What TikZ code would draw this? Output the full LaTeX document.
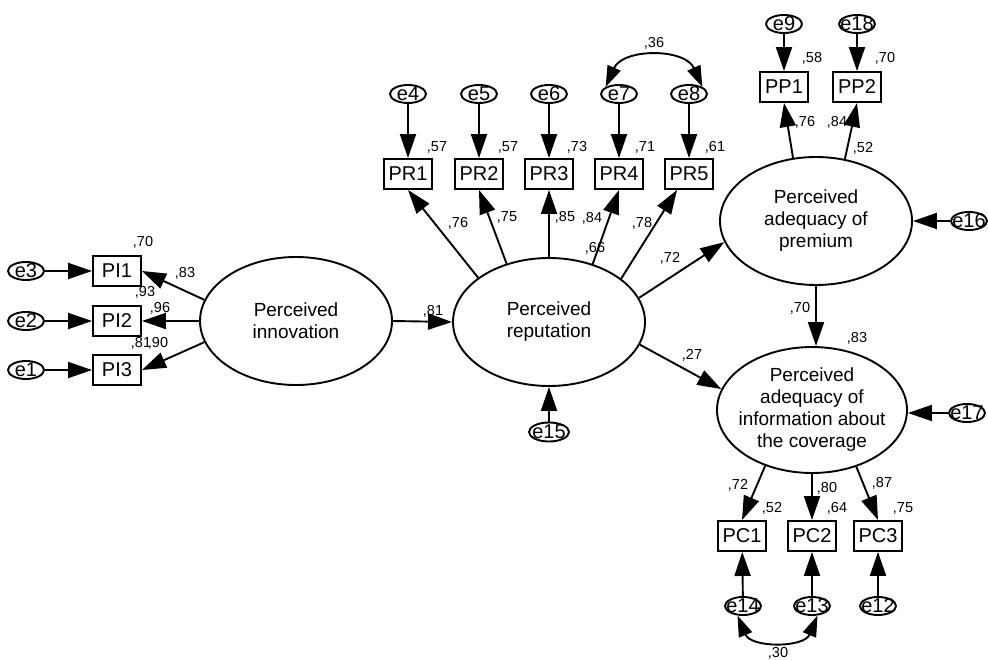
\documentclass[tikz,border=0pt]{standalone}
\usepackage{fontspec}
\setmainfont{Liberation Sans}
\usetikzlibrary{arrows.meta,shapes.geometric,calc}
\begin{document}
\begin{tikzpicture}[x=1pt,y=-1pt,
  lat/.style={ellipse,draw,line width=1.9pt,minimum width=192pt,minimum height=128pt,inner sep=0pt,
    label={[align=center,font=\fontsize{19}{22}\selectfont,inner sep=0pt]center:#1}},
  obs/.style={rectangle,draw,line width=1.9pt,minimum width=48pt,minimum height=30pt,inner sep=0pt,
    font=\fontsize{20}{22}\selectfont},
  err/.style={ellipse,draw,line width=1.9pt,minimum width=36pt,minimum height=18pt,inner sep=0pt,
    label={[font=\fontsize{20}{22}\selectfont,inner sep=0pt]center:#1}},
  lbl/.style={font=\fontsize{14.5}{16}\selectfont,inner sep=0pt},
  arr/.style={line width=1.9pt,-{Triangle[length=24pt,width=16pt]}},
  cov/.style={line width=1.9pt,{Triangle[length=21pt,width=14pt]}-{Triangle[length=21pt,width=14pt]}}
]
\useasboundingbox (0,0) rectangle (988,660);

% latent variables
\node[lat={Perceived\\innovation}] (inn) at (296,321) {};
\node[lat={Perceived\\reputation}] (rep) at (549,322) {};
\node[lat={Perceived\\adequacy of\\premium}] (pp) at (816,221) {};
\node[lat={Perceived\\adequacy of\\information about\\the coverage},minimum width=190pt,minimum height=126pt] (cov) at (812,410) {};

% PI indicators
\node[obs] (PI1) at (117,271) {PI1};
\node[obs] (PI2) at (117,321) {PI2};
\node[obs] (PI3) at (117,370) {PI3};
\node[err=e3] (e3) at (26,271) {};
\node[err=e2] (e2) at (26,321) {};
\node[err=e1] (e1) at (26,370) {};

% PR indicators
\node[obs] (PR1) at (408,174) {PR1};
\node[obs] (PR2) at (479,174) {PR2};
\node[obs] (PR3) at (549,174) {PR3};
\node[obs] (PR4) at (619,174) {PR4};
\node[obs] (PR5) at (689,174) {PR5};
\node[err=e4] (e4) at (408,94) {};
\node[err=e5] (e5) at (479,94) {};
\node[err=e6] (e6) at (549,94) {};
\node[err=e7] (e7) at (619,94) {};
\node[err=e8] (e8) at (689,94) {};
\node[err=e15,minimum width=40pt,minimum height=19pt] (e15) at (549,432) {};

% PP indicators
\node[obs] (PP1) at (784,87) {PP1};
\node[obs] (PP2) at (857,87) {PP2};
\node[err=e9] (e9) at (784,24) {};
\node[err=e18] (e18) at (857,24) {};
\node[err=e16] (e16) at (969,221) {};

% PC indicators
\node[obs] (PC1) at (742,536) {PC1};
\node[obs] (PC2) at (812,536) {PC2};
\node[obs] (PC3) at (878,536) {PC3};
\node[err=e14] (e14) at (743,606) {};
\node[err=e13] (e13) at (812,606) {};
\node[err=e12] (e12) at (878,606) {};
\node[err=e17] (e17) at (967,413) {};

% error arrows
\draw[arr] (e3) -- (PI1);
\draw[arr] (e2) -- (PI2);
\draw[arr] (e1) -- (PI3);
\draw[arr] (e4) -- (PR1);
\draw[arr] (e5) -- (PR2);
\draw[arr] (e6) -- (PR3);
\draw[arr] (e7) -- (PR4);
\draw[arr] (e8) -- (PR5);
\draw[arr] (e15) -- (rep);
\draw[arr] (e9) -- (PP1);
\draw[arr] (e18) -- (PP2);
\draw[arr] (e16) -- (pp);
\draw[arr] (e14) -- (PC1);
\draw[arr] (e13) -- (PC2);
\draw[arr] (e12) -- (PC3);
\draw[arr] (e17.west) -- (e17.west -| cov.east);

% loadings
\draw[arr] (inn.167) -- (PI1.east);
\draw[arr] (inn.west) -- (PI2.east);
\draw[arr] (inn.193) -- (PI3.east);
\draw[arr] (rep.148.6) -- (PR1.south);
\draw[arr] (rep.126.7) -- (PR2.south);
\draw[arr] (rep.north) -- (PR3.south);
\draw[arr] (rep.53.3) -- (PR4.south);
\draw[arr] (rep.31.6) -- ($(PR5.south)+(-12,0)$);
\draw[arr] (pp.110) -- (PP1.south);
\draw[arr] (pp.65) -- (PP2.south);
\draw[arr] (cov.230) -- (PC1.north);
\draw[arr] (cov.south) -- (PC2.north);
\draw[arr] (cov.308) -- (PC3.north);

% structural paths
\draw[arr] (inn.east) -- (rep.west);
\draw[arr] (rep.15.7) -- (pp.193.6);
\draw[arr] (rep.-14.5) -- (cov.167.7);
\draw[arr] (pp.south) -- (pp.south |- cov.north);

% covariances
\draw[cov] (e7.north west) .. controls (623,48) and (685,48) .. (e8.north east);
\draw[cov] (e14.240) .. controls (751,648) and (804,648) .. (e13.300);

% labels
\node[lbl] (l1) at (143,242) {,70};
\node[lbl] (l2) at (185,273) {,83};
\node[lbl] (l3) at (145,292) {,93};
\node[lbl] (l4) at (160,308) {,96};
\node[lbl] (l5) at (141,343) {,81};
\node[lbl] (l6) at (158,343) {,90};
\node[lbl] (l7) at (433,311) {,81};
\node[lbl] (l8) at (437,147) {,57};
\node[lbl] (l9) at (508,147) {,57};
\node[lbl] (l10) at (577,147) {,73};
\node[lbl] (l11) at (645,147) {,71};
\node[lbl] (l12) at (715,147) {,61};
\node[lbl] (l13) at (458,223) {,76};
\node[lbl] (l14) at (507,217) {,75};
\node[lbl] (l15) at (565,217) {,85};
\node[lbl] (l16) at (592,218) {,84};
\node[lbl] (l17) at (595,248) {,66};
\node[lbl] (l18) at (642,223) {,78};
\node[lbl] (l19) at (670,258) {,72};
\node[lbl] (l20) at (692,355) {,27};
\node[lbl] (l21) at (654,43) {,36};
\node[lbl] (l22) at (812,58) {,58};
\node[lbl] (l23) at (885,58) {,70};
\node[lbl] (l24) at (805,122) {,76};
\node[lbl] (l25) at (837,122) {,84};
\node[lbl] (l26) at (863,148) {,52};
\node[lbl] (l27) at (800,308) {,70};
\node[lbl] (l28) at (857,338) {,83};
\node[lbl] (l29) at (738,485) {,72};
\node[lbl] (l30) at (827,488) {,80};
\node[lbl] (l31) at (882,483) {,87};
\node[lbl] (l32) at (772,508) {,52};
\node[lbl] (l33) at (837,508) {,64};
\node[lbl] (l34) at (903,508) {,75};
\node[lbl] (l35) at (778,653) {,30};
\end{tikzpicture}
\end{document}
